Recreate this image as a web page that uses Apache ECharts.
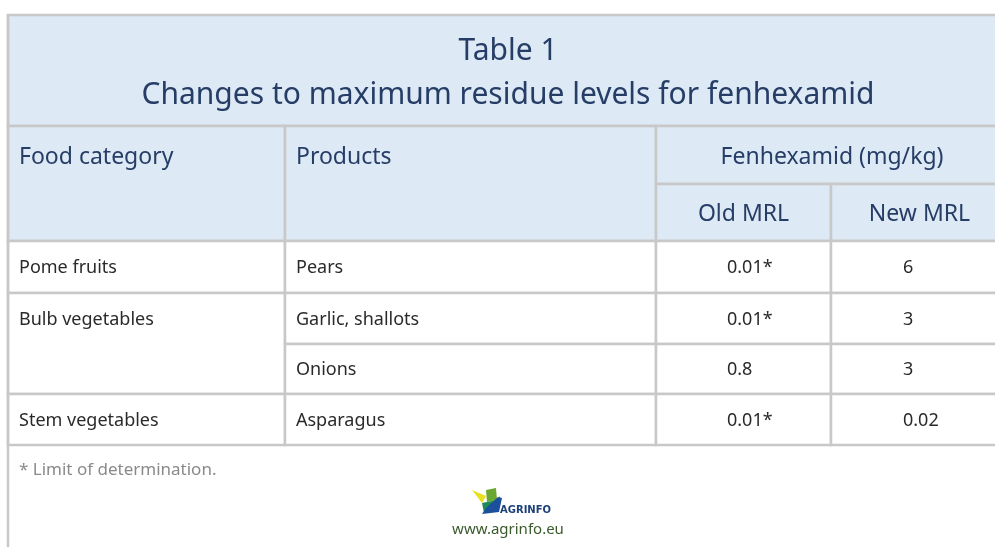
<!DOCTYPE html>
<html><head><meta charset="utf-8">
<script src="https://cdn.jsdelivr.net/npm/echarts@6/dist/echarts.min.js"></script>
<style>html,body{margin:0;padding:0;background:#fff}#c{width:995px;height:547px}</style>
</head><body><div id="c"></div>
<script>
// ---- data ----
const titleLines = ['Table 1', 'Changes to maximum residue levels for fenhexamid'];
const headerLabels = ['Food category', 'Products', 'Fenhexamid (mg/kg)', 'Old MRL', 'New MRL'];
const categories = ['Pome fruits', 'Bulb vegetables', 'Stem vegetables'];
const categoryRowSpan = [1, 2, 1];
const products = ['Pears', 'Garlic, shallots', 'Onions', 'Asparagus'];
const oldMRL = ['0.01*', '0.01*', '0.8', '0.01*'];
const newMRL = ['6', '3', '3', '0.02'];
const footnote = '* Limit of determination.';
const siteUrl = 'www.agrinfo.eu';

// ---- layout ----
const W = 995, H = 547;
const xs = [8, 285, 656, 831, 1008];
const ys = [15, 126, 184, 241, 293, 344, 394, 445];
const NAVY = '#263d66', BODY = '#2a2a2a', LINE = '#c8c8c8', HEAD_BG = '#dde9f5';

const cells = [];
cells.push({c0:0,c1:4,r0:0,r1:1,text:titleLines.join('\n'),kind:'title'});
cells.push({c0:0,c1:1,r0:1,r1:3,text:headerLabels[0],kind:'headL'});
cells.push({c0:1,c1:2,r0:1,r1:3,text:headerLabels[1],kind:'headL'});
cells.push({c0:2,c1:4,r0:1,r1:2,text:headerLabels[2],kind:'headC'});
cells.push({c0:2,c1:3,r0:2,r1:3,text:headerLabels[3],kind:'headC'});
cells.push({c0:3,c1:4,r0:2,r1:3,text:headerLabels[4],kind:'headC'});
let r = 3;
categories.forEach((cat, i) => {
  cells.push({c0:0,c1:1,r0:r,r1:r+categoryRowSpan[i],text:cat,kind:'bodyL'});
  r += categoryRowSpan[i];
});
products.forEach((p, i) => {
  cells.push({c0:1,c1:2,r0:3+i,r1:4+i,text:p,kind:'bodyL'});
  cells.push({c0:2,c1:3,r0:3+i,r1:4+i,text:oldMRL[i],kind:'bodyN'});
  cells.push({c0:3,c1:4,r0:3+i,r1:4+i,text:newMRL[i],kind:'bodyN'});
});

const chart = echarts.init(document.getElementById('c'));
chart.setOption({
  animation:false,
  grid:{left:0,right:0,top:0,bottom:0},
  xAxis:{type:'value',min:0,max:W,show:false},
  yAxis:{type:'value',min:0,max:H,inverse:true,show:false},
  graphic:[
    {type:'line',shape:{x1:8,y1:14,x2:8,y2:H},style:{stroke:LINE,lineWidth:2.5},z:10},
    {type:'text',style:{x:19,y:470,text:footnote,font:'17px "Noto Sans"',fill:'#8a8a8a',verticalAlign:'middle'}},
    {type:'polygon',shape:{points:[[472,490],[486,496],[482,503]]},style:{fill:'#e8e020'}},
    {type:'polygon',shape:{points:[[486,490],[496,488],[497,500],[487,502]]},style:{fill:'#6aa832'}},
    {type:'polygon',shape:{points:[[482,503],[497,500],[500,496],[498,510],[484,513]]},style:{fill:'#1d8a58'}},
    {type:'polygon',shape:{points:[[498,497],[502,498],[499,512],[482,514],[486,508]]},style:{fill:'#1c4f9c'}},
    {type:'text',style:{x:500,y:510,text:'AGRINFO',font:'bold 10px "DejaVu Sans"',fill:'#1d3f78',verticalAlign:'middle'}},
    {type:'text',style:{x:508,y:530,text:siteUrl,font:'15px "Noto Sans"',fill:'#3b5a2c',align:'center',verticalAlign:'middle'}}
  ],
  series:[{
    type:'custom',
    coordinateSystem:'cartesian2d',
    data:cells.map((c,i)=>[i]),
    renderItem:function(params, api){
      const c = cells[api.value(0)];
      const p0 = api.coord([xs[c.c0], ys[c.r0]]);
      const p1 = api.coord([xs[c.c1], ys[c.r1]]);
      const bandMid = api.coord([0,(ys[c.r0]+ys[c.r0+1])/2])[1];
      const isHead = c.kind==='title' || c.kind.indexOf('head')===0;
      let tx, ty, align='left', font, fill;
      if (c.kind==='title'){ tx=(p0[0]+p1[0])/2; ty=(p0[1]+p1[1])/2+3; align='center'; font='30px "Noto Sans"'; fill=NAVY; }
      else if (c.kind==='headL'){ tx=p0[0]+11; ty=bandMid+2; font='23px "Noto Sans"'; fill=NAVY; }
      else if (c.kind==='headC'){ tx=(p0[0]+p1[0])/2; ty=bandMid+2; align='center'; font='23px "Noto Sans"'; fill=NAVY; }
      else if (c.kind==='bodyL'){ tx=p0[0]+11; ty=bandMid+1; font='18px "Noto Sans"'; fill=BODY; }
      else { tx=p0[0]+(c.c0===2?71:72); ty=bandMid+1; font='18px "Noto Sans"'; fill=BODY; }
      return {type:'group',children:[
        {type:'rect',shape:{x:p0[0],y:p0[1],width:p1[0]-p0[0],height:p1[1]-p0[1]},
         style:{fill:isHead?HEAD_BG:'#fff',stroke:LINE,lineWidth:2.5}},
        {type:'text',style:{x:tx,y:ty,text:c.text,font:font,fill:fill,align:align,verticalAlign:'middle',lineHeight:c.kind==='title'?44:undefined}}
      ]};
    }
  }]
});
</script></body></html>
